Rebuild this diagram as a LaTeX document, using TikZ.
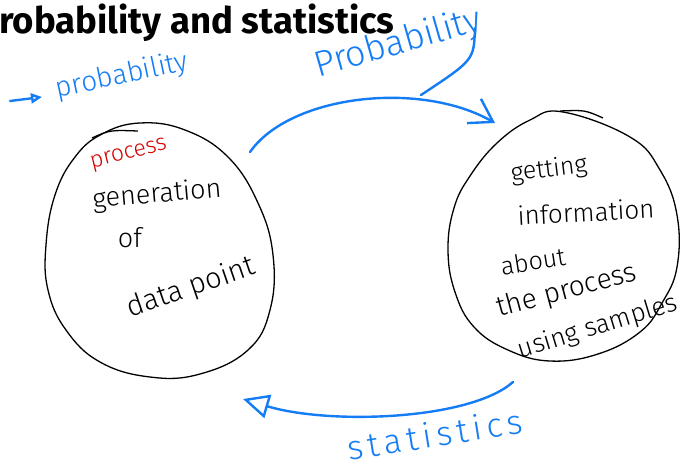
\documentclass[tikz,border=0pt]{standalone}
\usepackage{fontspec}
\setmainfont{Fira Sans}
\IfFontExistsTF{Fira Sans Light}{\newfontfamily\hand{Fira Sans Light}}{\newfontfamily\hand{Fira Sans}}
\usetikzlibrary{arrows.meta}
\definecolor{penblue}{RGB}{20,125,245}
\definecolor{penred}{RGB}{215,0,0}

\begin{document}
\begin{tikzpicture}[x=1pt,y=-1pt,
  pen/.style={draw=penblue,line width=2.4pt,line cap=round,line join=round},
  blob/.style={draw=black,line width=1.3pt},
  hw/.style={inner sep=0pt,font=\hand\fontsize{#1}{#1}\selectfont},
  note/.style={hw=#1,text=penblue}
  ]
  \useasboundingbox[fill=white] (0,0) rectangle (688,467);

  % heading
  \node (title) [anchor=base west,inner sep=0pt,
                 font=\bfseries\fontsize{36.5}{37}\selectfont] at (-1,33)
        {robability and statistics};

  % the two bubbles
  \draw[blob] plot[smooth cycle,tension=0.7] coordinates {
      (140,123) (185,130) (228,157) (258,203) (273,255) (270,310)
      (248,350) (200,374) (150,377) (100,362) (66,330) (48,290)
      (46,245) (55,195) (75,157) (102,134)};
  \draw[blob] (92,138) .. controls (110,130) .. (138,131);
  \draw[blob] plot[smooth cycle,tension=0.7] coordinates {
      (563,112) (630,137) (660,170) (677,215) (677,267) (662,303)
      (640,332) (598,354) (550,361) (508,350) (474,327) (455,292)
      (448,250) (454,208) (470,176) (497,143) (530,120)};
  \draw[blob] (560,111) .. controls (585,110) .. (603,118);

  % left bubble text
  \node (process) [hw=23,text=penred,rotate=14] at (129,155) {process};
  \node (gen)     [hw=27,rotate=5]  at (157,195) {generation};
  \node (of)      [hw=27]           at (130,238) {of};
  \node (datapt)  [hw=29,rotate=19] at (191,288) {data point};

  % right bubble text
  \node (getting) [hw=25,rotate=7]  at (549,170) {getting};
  \node (info)    [hw=26,rotate=3]  at (586,212) {information};
  \node (about)   [hw=25,rotate=9]  at (533,261) {about};
  \node (theproc) [hw=28,rotate=15] at (567,291) {the process};
  \node (using)   [hw=26,rotate=17] at (598,327) {using samples};

  % blue notes
  \node (lprob) [note=28,rotate=12] at (122,76)  {probability};
  \node (tprob) [note=36,rotate=16] at (398,44)  {Probability};
  \node (stat)  [note=34,rotate=9] at (435,434)
        {\addfontfeatures{LetterSpace=14}statistics};
  \draw[pen] (tprob.east) ++(-6,8) .. controls (474,60) .. (421,95);

  % arrows
  \coordinate (arrowin)  at (10,101);
  \coordinate (arrowtip) at (42,97);
  \coordinate (pfrom) at (250,152);
  \coordinate (pto)   at (495,123);
  \coordinate (sfrom) at (513,382);
  \coordinate (sto)   at (243,399);
  \draw[pen,-{Triangle[open,length=11pt,width=10pt]}] (arrowin) -- (arrowtip);
  \draw[pen,-{Straight Barb[length=22pt,width=28pt]}] (pfrom)
        .. controls (290,95) and (420,80) .. (pto);
  \draw[pen,-{Triangle[open,length=26pt,width=24pt]}] (sfrom)
        .. controls (470,420) and (330,425) .. (sto);
\end{tikzpicture}
\end{document}
